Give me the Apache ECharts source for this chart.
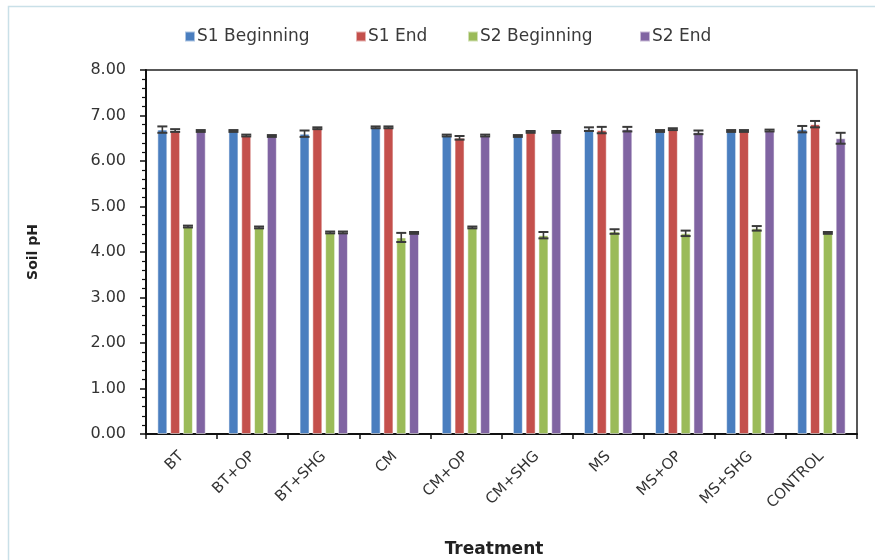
<!DOCTYPE html>
<html>
<head>
<meta charset="utf-8">
<script src="https://cdn.jsdelivr.net/npm/echarts@6/dist/echarts.min.js"></script>
<style>
  html, body { margin: 0; padding: 0; background: #fff; }
  #chart { width: 875px; height: 560px; }
</style>
</head>
<body>
<div id="chart"></div>
<script>
// Soil pH by treatment, two seasons, beginning and end of each
const treatments = ['BT', 'BT+OP', 'BT+SHG', 'CM', 'CM+OP', 'CM+SHG', 'MS', 'MS+OP', 'MS+SHG', 'CONTROL'];
const seriesNames = ['S1 Beginning', 'S1 End', 'S2 Beginning', 'S2 End'];

const s1Beginning = [6.69, 6.66, 6.60, 6.74, 6.56, 6.55, 6.70, 6.66, 6.66, 6.70];
const s1End       = [6.67, 6.56, 6.72, 6.74, 6.51, 6.64, 6.68, 6.70, 6.66, 6.81];
const s2Beginning = [4.56, 4.54, 4.43, 4.32, 4.54, 4.37, 4.45, 4.41, 4.52, 4.42];
const s2End       = [6.66, 6.55, 4.43, 4.42, 6.56, 6.64, 6.70, 6.63, 6.67, 6.50];

// standard errors
const s1BeginningErr = [0.07, 0.02, 0.07, 0.02, 0.02, 0.02, 0.04, 0.02, 0.02, 0.07];
const s1EndErr       = [0.03, 0.02, 0.02, 0.02, 0.04, 0.02, 0.07, 0.02, 0.02, 0.07];
const s2BeginningErr = [0.02, 0.02, 0.02, 0.10, 0.02, 0.07, 0.05, 0.06, 0.05, 0.02];
const s2EndErr       = [0.02, 0.02, 0.02, 0.02, 0.02, 0.02, 0.05, 0.04, 0.02, 0.12];

const yTicks = [0, 1, 2, 3, 4, 5, 6, 7, 8];

const values = [s1Beginning, s1End, s2Beginning, s2End];
const errors = [s1BeginningErr, s1EndErr, s2BeginningErr, s2EndErr];
const colors = ['#4a7ebf', '#c4504c', '#9bbb59', '#8064a2'];

const BAR_W = 10;
const BAR_GAP = 0.28; // fraction of bar width

const chart = echarts.init(document.getElementById('chart'));

const barSeries = seriesNames.map((name, k) => ({
  name: name,
  type: 'bar',
  data: values[k],
  barWidth: BAR_W,
  barGap: (BAR_GAP * 100) + '%',
  itemStyle: { color: colors[k], borderColor: 'rgba(255,255,255,0.55)', borderWidth: 1 },
  z: 2
}));

function errorRenderer(k) {
  return function (params, api) {
    const cat = api.value(0);
    const v = api.value(1);
    const e = api.value(2);
    const hi = api.coord([cat, v + e]);
    const lo = api.coord([cat, v - e]);
    const step = BAR_W * (1 + BAR_GAP);
    const x = hi[0] + (k - 1.5) * step;
    const half = BAR_W / 2;
    const capStyle = { stroke: '#3a3a3a', lineWidth: 2 };
    return {
      type: 'group',
      children: [
        { type: 'line', shape: { x1: x, y1: hi[1], x2: x, y2: lo[1] }, style: { stroke: '#3a3a3a', lineWidth: 1.6 } },
        { type: 'line', shape: { x1: x - half, y1: hi[1], x2: x + half, y2: hi[1] }, style: capStyle },
        { type: 'line', shape: { x1: x - half, y1: lo[1], x2: x + half, y2: lo[1] }, style: capStyle }
      ]
    };
  };
}

const errSeries = seriesNames.map((name, k) => ({
  name: name + ' error',
  type: 'custom',
  renderItem: errorRenderer(k),
  data: values[k].map((v, i) => [i, v, errors[k][i]]),
  encode: { x: 0, y: 1 },
  z: 5,
  silent: true
}));

const legendLefts = [179, 350, 462, 634];
const legends = seriesNames.map((name, k) => ({
  data: [name],
  left: legendLefts[k],
  top: 23,
  itemWidth: 10,
  itemHeight: 10,
  itemGap: 0,
  icon: 'rect',
  textStyle: { fontFamily: 'DejaVu Sans', fontSize: 17, color: '#3a3a3a', padding: [0, 0, 0, -3] }
}));

chart.setOption({
  animation: false,
  backgroundColor: '#ffffff',
  graphic: [{
    type: 'rect',
    left: 6, top: 4,
    shape: { width: 900, height: 600 },
    style: { fill: 'none', stroke: '#c9e0e8', lineWidth: 1.5 },
    silent: true
  }, {
    // x-axis title
    type: 'text',
    x: 494, y: 550,
    style: {
      text: 'Treatment',
      fontFamily: 'DejaVu Sans', fontWeight: 'bold', fontSize: 17, fill: '#222',
      align: 'center', verticalAlign: 'middle'
    },
    silent: true
  }],
  legend: legends,
  grid: {
    left: 146, right: 18, top: 70, bottom: 126,
    containLabel: false,
    outerBoundsMode: 'none',
    show: true, borderColor: '#222', borderWidth: 1.5, backgroundColor: 'transparent'
  },
  xAxis: {
    type: 'category',
    data: treatments,
    axisLine: { lineStyle: { color: '#111', width: 2 } },
    axisTick: { show: true, length: 5, lineStyle: { color: '#111', width: 1.5 } },
    axisLabel: {
      rotate: 45,
      margin: 20,
      fontFamily: 'DejaVu Sans',
      fontSize: 15,
      color: '#333'
    }
  },
  yAxis: {
    type: 'value',
    min: yTicks[0],
    max: yTicks[yTicks.length - 1],
    interval: 1,
    name: 'Soil pH',
    nameLocation: 'middle',
    nameGap: 106,
    nameTextStyle: { fontFamily: 'DejaVu Sans', fontWeight: 'bold', fontSize: 14, color: '#222' },
    axisLine: { show: true, lineStyle: { color: '#111', width: 2 } },
    axisTick: { show: true, length: 6, lineStyle: { color: '#111', width: 1.5 } },
    minorTick: { show: true, splitNumber: 5, length: 4, lineStyle: { color: '#111', width: 1.2 } },
    splitLine: { show: false },
    axisLabel: {
      margin: 20,
      fontFamily: 'DejaVu Sans',
      fontSize: 16,
      color: '#333',
      formatter: v => v.toFixed(2)
    }
  },
  series: barSeries.concat(errSeries)
});
</script>
</body>
</html>
